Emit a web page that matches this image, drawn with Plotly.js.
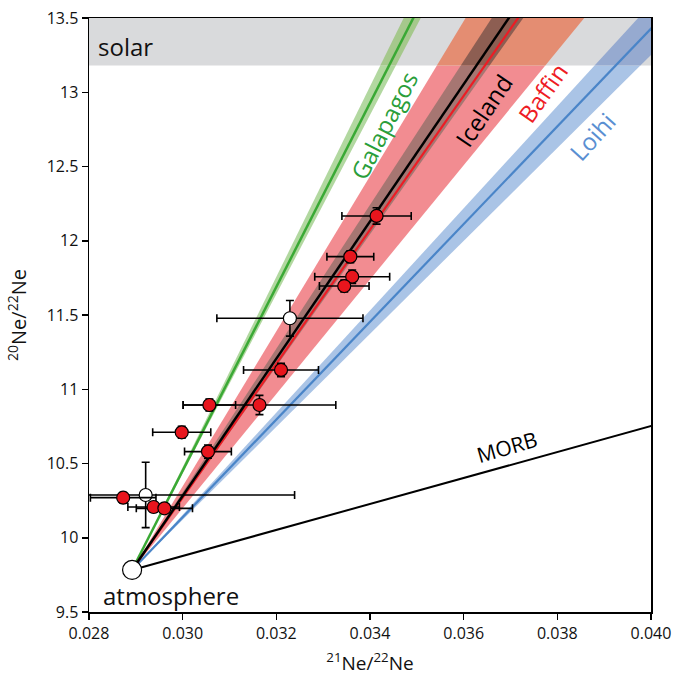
<!DOCTYPE html>
<html><head><meta charset="utf-8">
<script src="https://cdn.plot.ly/plotly-3.0.1.min.js"></script>
<style>html,body{margin:0;padding:0;background:#fff}</style>
</head><body><div id="chart" style="width:676px;height:676px"></div>
<script>
// ---- data ----
const atmX = 0.02892, atmY = 9.783;          // atmosphere end-member
const solarLow = 13.18;                      // lower edge of solar field
// mixing lines from atmosphere, slope d(20/22)/d(21/22)
const lineNames  = ['Galapagos', 'Loihi', 'Baffin', 'Iceland', 'MORB'];
const lineSlopes = [619, 329, 451, 462, 87.5];
const lineColors = ['#3aa935', '#4a85c8', '#ed1c24', '#000000', '#000000'];
const lineWidths = [2.5, 2.2, 2.2, 2.5, 2];
// uncertainty bands (two bounding slopes)
const bandNames   = ['Galapagos', 'Baffin', 'Iceland', 'Loihi'];
const bandSlopeA  = [641, 522, 484, 344];
const bandSlopeB  = [603, 385, 445, 313];
const bandColLow  = ['#b2d8a0', '#f28c91', '#a67672', '#aac4e6'];
const bandColHigh = ['#a5c88c', '#e48d72', '#8d5e52', '#96aad0'];
// samples: red = Baffin/Iceland data, white = others
const redX    = [0.03414, 0.03358, 0.03362, 0.03345, 0.03210, 0.03057, 0.03164, 0.02998, 0.03054, 0.02873, 0.02938, 0.02961];
const redY    = [12.167, 11.893, 11.758, 11.695, 11.130, 10.894, 10.894, 10.710, 10.580, 10.270, 10.207, 10.198];
const redXerr = [0.00074, 0.00050, 0.00080, 0.00053, 0.00080, 0.00056, 0.00163, 0.00062, 0.00050, 0.00070, 0.00055, 0.00060];
const redYerr = [0.055, 0.04, 0.045, 0.04, 0.045, 0.04, 0.065, 0.04, 0.045, 0.035, 0.035, 0.03];
const whiteX    = [0.03229, 0.02921];
const whiteY    = [11.478, 10.288];
const whiteXerr = [0.00156, 0.00318];
const whiteYerr = [0.12, 0.22];
// labels
const labelText  = ['Galapagos', 'Iceland', 'Baffin', 'Loihi', 'MORB'];
const labelX     = [0.03430, 0.03643, 0.03769, 0.03874, 0.03692];
const labelY     = [12.773, 12.874, 12.995, 12.705, 10.613];
const labelAngle = [-63, -56, -55, -48, -16];
const labelColor = ['#2a9e3a', '#000000', '#ee1c25', '#5a8fd2', '#000000'];

const X_RANGE = [0.028, 0.040], Y_RANGE = [9.5, 13.5];
const yTop = 13.6, xFar = 0.041;
const xAt = (s, y) => atmX + (y - atmY) / s;

const traces = [];
// bands
bandNames.forEach((n, i) => {
  const a = bandSlopeA[i], b = bandSlopeB[i];
  traces.push({x: [atmX, xAt(a, solarLow), xAt(b, solarLow), atmX],
               y: [atmY, solarLow, solarLow, atmY],
               mode: 'lines', fill: 'toself', fillcolor: bandColLow[i],
               line: {width: 0}, hoverinfo: 'skip', showlegend: false});
  traces.push({x: [xAt(a, solarLow), xAt(a, yTop), xAt(b, yTop), xAt(b, solarLow), xAt(a, solarLow)],
               y: [solarLow, yTop, yTop, solarLow, solarLow],
               mode: 'lines', fill: 'toself', fillcolor: bandColHigh[i],
               line: {width: 0}, hoverinfo: 'skip', showlegend: false});
});
// lines
lineNames.forEach((n, i) => {
  const s = lineSlopes[i];
  const yEnd = n === 'MORB' ? atmY + s * (xFar - atmX) : yTop;
  const xEnd = n === 'MORB' ? xFar : xAt(s, yTop);
  traces.push({x: [atmX, xEnd], y: [atmY, yEnd], mode: 'lines',
               line: {color: lineColors[i], width: lineWidths[i]},
               hoverinfo: 'skip', showlegend: false});
});
const errStyle = (arr) => ({type: 'data', array: arr, visible: true, color: '#000', thickness: 1.6, width: 4});
traces.push({x: whiteX, y: whiteY, mode: 'markers', error_x: errStyle(whiteXerr), error_y: errStyle(whiteYerr),
             marker: {size: 13, color: '#ffffff', line: {color: '#000', width: 1.2}}, showlegend: false});
traces.push({x: redX, y: redY, mode: 'markers', error_x: errStyle(redXerr), error_y: errStyle(redYerr),
             marker: {size: 13, color: '#e8151d', line: {color: '#000', width: 1.2}}, showlegend: false});
traces.push({x: [atmX], y: [atmY], mode: 'markers', cliponaxis: false,
             marker: {size: 19, color: '#ffffff', line: {color: '#000', width: 1.2}}, showlegend: false});

const FONT = 'Open Sans, Noto Sans, sans-serif';
const annotations = labelText.map((t, i) => ({
  x: labelX[i], y: labelY[i], text: t, showarrow: false, textangle: labelAngle[i],
  font: {family: FONT, size: t === 'MORB' ? 21 : 24, color: labelColor[i]}
}));
annotations.push({x: 0.02816, y: 13.305, xanchor: 'left', text: 'solar', showarrow: false,
                  font: {family: FONT, size: 24, color: '#111'}});
annotations.push({x: 0.02826, y: 9.61, xanchor: 'left', text: 'atmosphere', showarrow: false,
                  font: {family: FONT, size: 24, color: '#111'}});

const layout = {
  width: 676, height: 676,
  margin: {l: 89, r: 25, t: 18, b: 64},
  paper_bgcolor: '#fff', plot_bgcolor: '#fff',
  font: {family: FONT, color: '#111'},
  xaxis: {range: X_RANGE, dtick: 0.002, tick0: 0.028, tickformat: '.3f',
          ticks: 'outside', ticklen: 6, tickwidth: 1.5, tickcolor: '#000',
          showline: true, mirror: true, linecolor: '#000', linewidth: 1.5,
          showgrid: false, zeroline: false, tickfont: {size: 16, family: FONT},
          title: {text: '<sup>21</sup>Ne/<sup>22</sup>Ne', font: {size: 19, family: FONT}, standoff: 14}},
  yaxis: {range: Y_RANGE, dtick: 0.5, tick0: 9.5,
          ticks: 'outside', ticklen: 6, tickwidth: 1.5, tickcolor: '#000',
          showline: true, mirror: true, linecolor: '#000', linewidth: 1.5,
          showgrid: false, zeroline: false, tickfont: {size: 16, family: FONT},
          title: {text: '<sup>20</sup>Ne/<sup>22</sup>Ne', font: {size: 20, family: FONT}, standoff: 14}},
  shapes: [{type: 'rect', xref: 'paper', yref: 'y', x0: 0, x1: 1, y0: solarLow, y1: Y_RANGE[1],
            fillcolor: '#d9dadc', line: {width: 0}, layer: 'below'}],
  annotations: annotations
};
Plotly.newPlot('chart', traces, layout, {displayModeBar: false, staticPlot: true});
</script>
</body></html>
